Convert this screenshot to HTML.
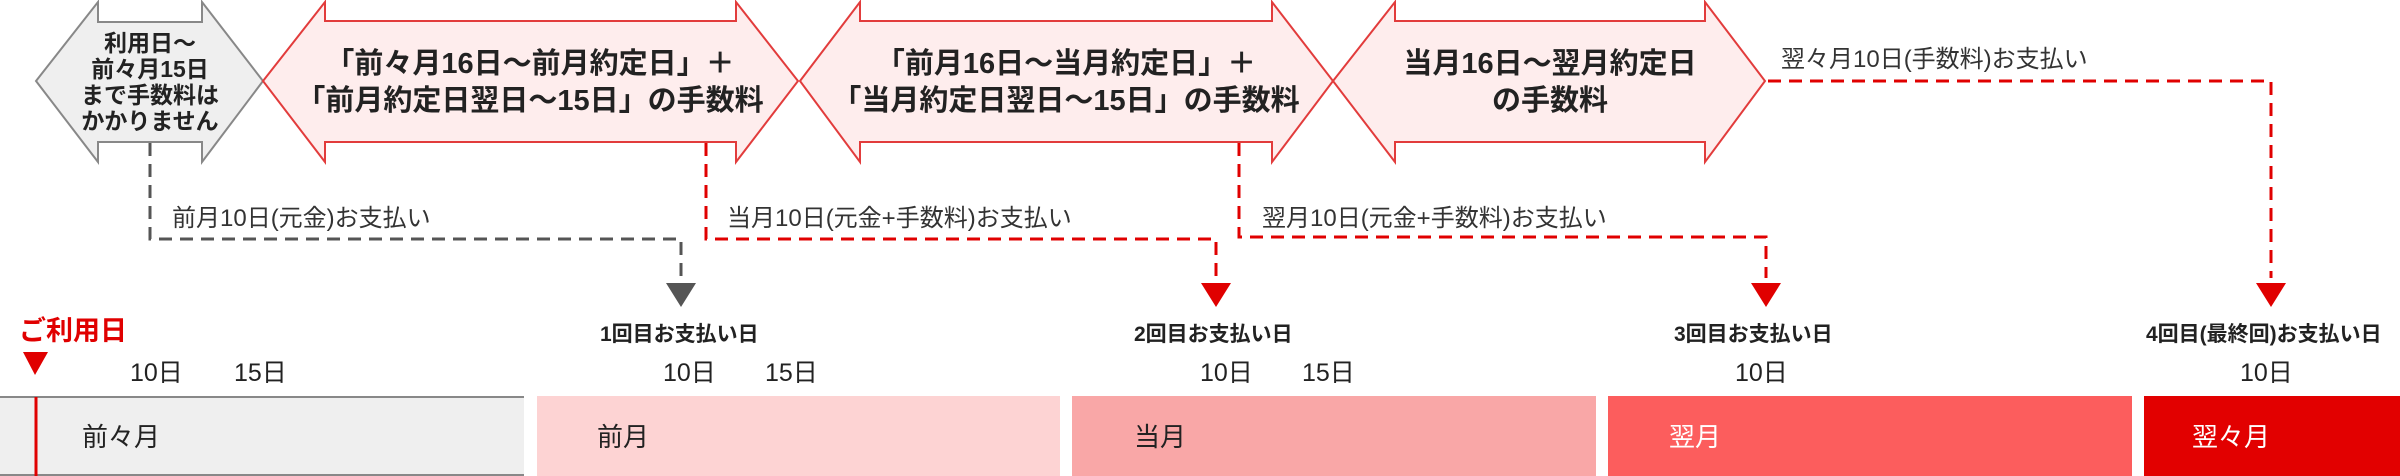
<!DOCTYPE html>
<html><head><meta charset="utf-8">
<style>
html,body{margin:0;padding:0;background:#fff;}
svg{display:block;}
text{font-family:"Liberation Sans","Noto Sans CJK JP",sans-serif;}
</style></head>
<body>
<svg width="2400" height="476" viewBox="0 0 2400 476" xmlns="http://www.w3.org/2000/svg">
<!-- gray double arrow -->
<polygon points="36,81 98,2 98,22 202,22 202,2 263,81 202,162 202,142 98,142 98,162" fill="#efefef" stroke="#888" stroke-width="2"/>
<!-- red arrows -->
<polygon points="263,81 325,2 325,21 736,21 736,2 798,81 736,162 736,142 325,142 325,162" fill="#feeded" stroke="#e23c3c" stroke-width="2"/>
<polygon points="800,81 860,2 860,21 1272,21 1272,2 1333,81 1272,162 1272,142 860,142 860,162" fill="#feeded" stroke="#e23c3c" stroke-width="2"/>
<polygon points="1333,81 1395,2 1395,21 1705,21 1705,2 1765,81 1705,162 1705,142 1395,142 1395,162" fill="#feeded" stroke="#e23c3c" stroke-width="2"/>

<!-- gray arrow text -->
<g font-weight="bold" font-size="23" fill="#222" text-anchor="middle">
<text x="150" y="51">利用日～</text>
<text x="150" y="77">前々月15日</text>
<text x="150" y="103">まで手数料は</text>
<text x="150" y="129">かかりません</text>
</g>
<g font-weight="bold" font-size="29" fill="#222" text-anchor="middle">
<text x="530" y="73">「前々月16日～前月約定日」＋</text>
<text x="530" y="110">「前月約定日翌日～15日」の手数料</text>
<text x="1066" y="73">「前月16日～当月約定日」＋</text>
<text x="1066" y="110">「当月約定日翌日～15日」の手数料</text>
<text x="1550" y="73">当月16日～翌月約定日</text>
<text x="1550" y="110">の手数料</text>
</g>

<!-- connectors -->
<g fill="none" stroke-width="3" stroke-dasharray="13,8">
<polyline points="150,143 150,239 681,239 681,278" stroke="#555"/>
<polyline points="706,143 706,239 1216,239 1216,278" stroke="#e00000"/>
<polyline points="1239,143 1239,237 1766,237 1766,278" stroke="#e00000"/>
<polyline points="1768,81 2271,81 2271,278" stroke="#e00000"/>
</g>
<polygon points="666,283 696,283 681,307" fill="#555"/>
<polygon points="1201,283 1231,283 1216,307" fill="#e00000"/>
<polygon points="1751,283 1781,283 1766,307" fill="#e00000"/>
<polygon points="2256,283 2286,283 2271,307" fill="#e00000"/>

<g font-size="24" fill="#333">
<text x="172" y="226">前月10日(元金)お支払い</text>
<text x="727" y="226">当月10日(元金+手数料)お支払い</text>
<text x="1262" y="226">翌月10日(元金+手数料)お支払い</text>
<text x="1781" y="67">翌々月10日(手数料)お支払い</text>
</g>

<!-- date labels -->
<text x="19" y="340" font-size="27" font-weight="bold" fill="#e00000">ご利用日</text>
<polygon points="23,352 48,352 35,375" fill="#e00000"/>
<g font-size="21" font-weight="bold" fill="#222">
<text x="600" y="341">1回目お支払い日</text>
<text x="1134" y="341">2回目お支払い日</text>
<text x="1674" y="341">3回目お支払い日</text>
<text x="2146" y="341">4回目(最終回)お支払い日</text>
</g>
<g font-size="25" fill="#222">
<text x="130" y="381">10日</text><text x="234" y="381">15日</text>
<text x="663" y="381">10日</text><text x="765" y="381">15日</text>
<text x="1200" y="381">10日</text><text x="1302" y="381">15日</text>
<text x="1735" y="381">10日</text>
<text x="2240" y="381">10日</text>
</g>

<!-- bars -->
<rect x="0" y="396" width="524" height="80" fill="#efefef"/>
<line x1="0" y1="397" x2="524" y2="397" stroke="#888" stroke-width="2"/>
<line x1="0" y1="475" x2="524" y2="475" stroke="#888" stroke-width="2"/>
<line x1="36" y1="397" x2="36" y2="476" stroke="#e00000" stroke-width="3"/>
<rect x="537" y="396" width="523" height="80" fill="#fdd3d3"/>
<rect x="1072" y="396" width="524" height="80" fill="#f9a7a7"/>
<rect x="1608" y="396" width="524" height="80" fill="#fc5d5d"/>
<rect x="2144" y="396" width="256" height="80" fill="#e20000"/>
<g font-size="26">
<text x="82" y="446" fill="#222">前々月</text>
<text x="597" y="446" fill="#222">前月</text>
<text x="1134" y="446" fill="#222">当月</text>
<text x="1669" y="446" fill="#fff">翌月</text>
<text x="2192" y="446" fill="#fff">翌々月</text>
</g>
</svg>
</body></html>
